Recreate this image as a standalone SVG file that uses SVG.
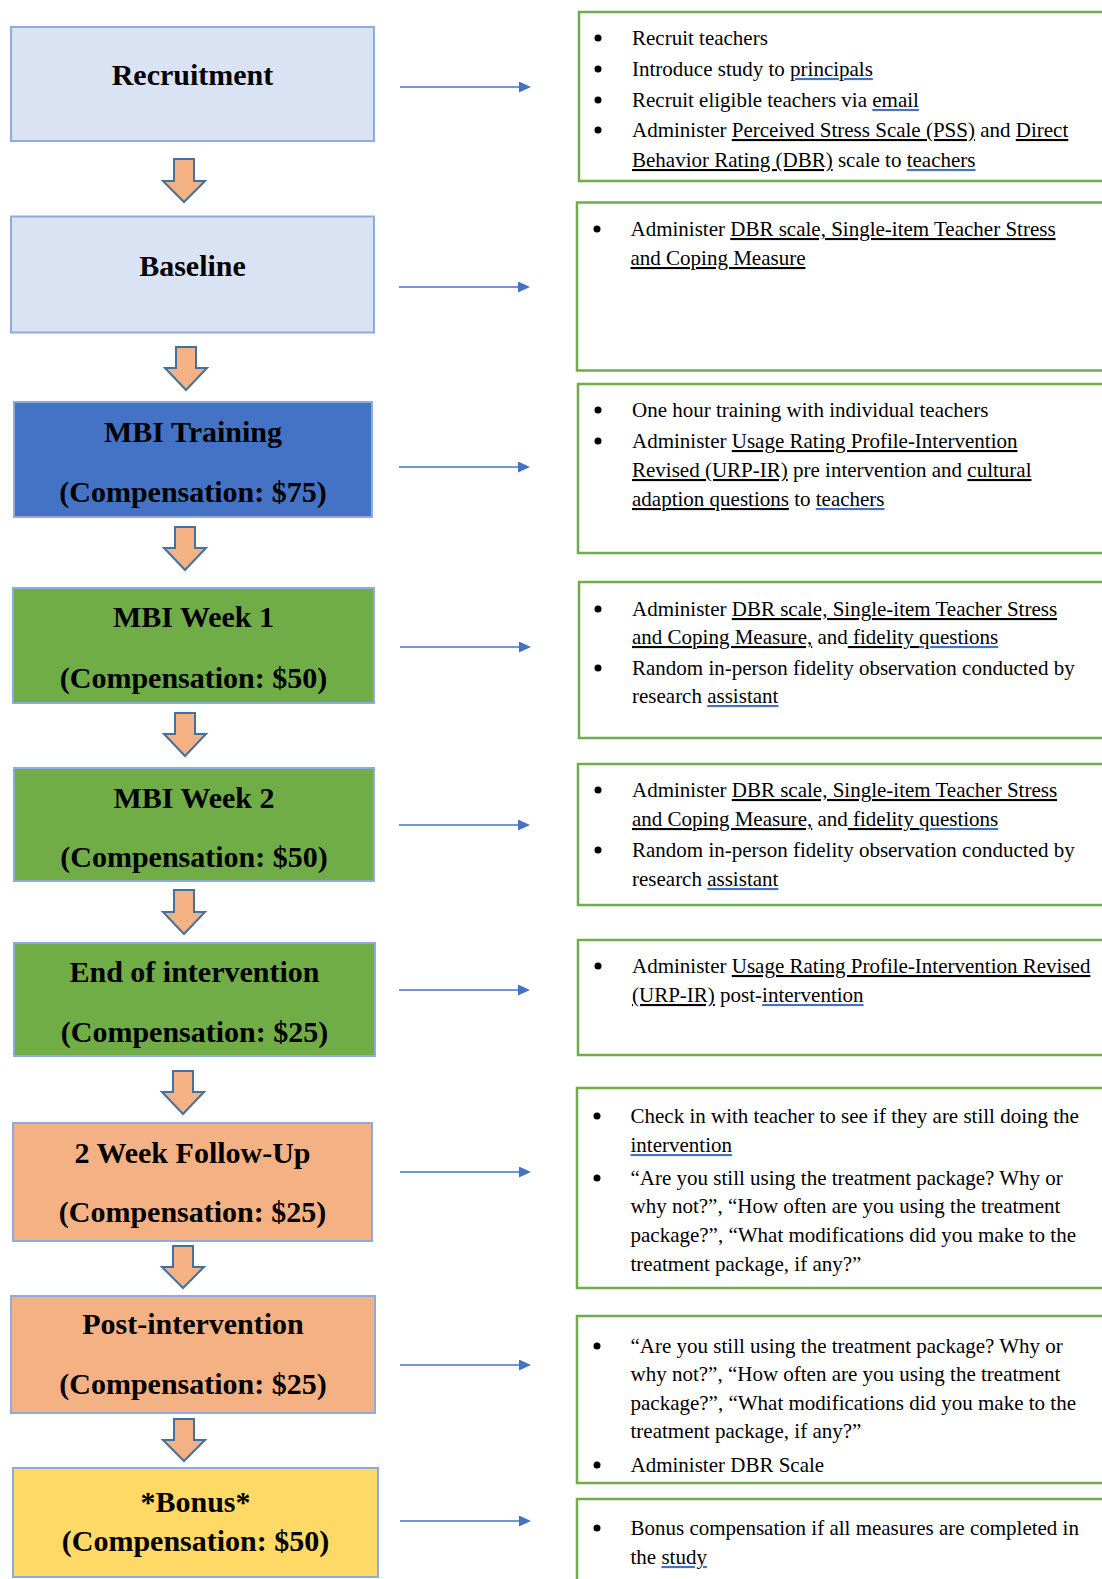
<svg xmlns="http://www.w3.org/2000/svg" width="1102" height="1579" viewBox="0 0 1102 1579">
<style>
.lb{stroke:#8FAADC;stroke-width:2}
.rb{fill:none;stroke:#70AD47;stroke-width:2.5}
.lt{font-family:"Liberation Serif","Times New Roman",serif;font-weight:bold;font-size:30px;text-anchor:middle;fill:#000}
.rt{font-family:"Liberation Serif","Times New Roman",serif;font-size:21px;fill:#000}
.u{text-decoration:underline}
.b{text-decoration:underline;fill:#4472C4}
.k{fill:#000}
.dn{fill:#F4B183;stroke:#41719C;stroke-width:2;stroke-linejoin:miter}
.ra{stroke:#4472C4;stroke-width:1.5;fill:none;marker-end:url(#ah)}
.bul{fill:#000}
</style>
<defs>
<marker id="ah" markerUnits="userSpaceOnUse" markerWidth="13" markerHeight="12" refX="1" refY="5.5" orient="auto">
<path d="M0,0 L12,5.5 L0,11 Z" fill="#4472C4"/>
</marker>
</defs>
<rect width="1102" height="1579" fill="#fff"/>

<g id="node-recruitment">
<rect class="lb" x="11" y="27" width="363" height="114" fill="#DAE3F3"/>
<text class="lt" x="192.5" y="85">Recruitment</text>
</g>
<g id="node-baseline">
<rect class="lb" x="11" y="216.5" width="363" height="116" fill="#DAE3F3"/>
<text class="lt" x="192.5" y="276">Baseline</text>
</g>
<g id="node-mbi-training">
<rect class="lb" x="14" y="402" width="358" height="115" fill="#4472C4"/>
<text class="lt" x="193" y="442">MBI Training</text>
<text class="lt" x="193" y="502">(Compensation: $75)</text>
</g>
<g id="node-mbi-week1">
<rect class="lb" x="13" y="588" width="361" height="115" fill="#70AD47"/>
<text class="lt" x="193.5" y="627">MBI Week 1</text>
<text class="lt" x="193.5" y="688">(Compensation: $50)</text>
</g>
<g id="node-mbi-week2">
<rect class="lb" x="14" y="768" width="360" height="113" fill="#70AD47"/>
<text class="lt" x="194" y="808">MBI Week 2</text>
<text class="lt" x="194" y="867">(Compensation: $50)</text>
</g>
<g id="node-end">
<rect class="lb" x="14" y="943" width="361" height="113" fill="#70AD47"/>
<text class="lt" x="194.5" y="982">End of intervention</text>
<text class="lt" x="194.5" y="1042">(Compensation: $25)</text>
</g>
<g id="node-followup">
<rect class="lb" x="13" y="1123" width="359" height="118" fill="#F4B183"/>
<text class="lt" x="192.5" y="1163">2 Week Follow-Up</text>
<text class="lt" x="192.5" y="1222">(Compensation: $25)</text>
</g>
<g id="node-post">
<rect class="lb" x="11" y="1296" width="364" height="117" fill="#F4B183"/>
<text class="lt" x="193" y="1334">Post-intervention</text>
<text class="lt" x="193" y="1394">(Compensation: $25)</text>
</g>
<g id="node-bonus">
<rect class="lb" x="13" y="1468" width="365" height="109" fill="#FFD966"/>
<text class="lt" x="195.5" y="1512">*Bonus*</text>
<text class="lt" x="195.5" y="1551">(Compensation: $50)</text>
</g>

<g id="detail-recruitment">
<rect class="rb" x="579" y="12" width="540" height="169"/>
<circle class="bul" cx="598" cy="38" r="3.5"/>
<circle class="bul" cx="598" cy="69" r="3.5"/>
<circle class="bul" cx="598" cy="100" r="3.5"/>
<circle class="bul" cx="598" cy="130" r="3.5"/>
<text class="rt" x="632" y="45">Recruit teachers</text>
<text class="rt" x="632" y="76">Introduce study to <tspan class="b"><tspan class="k">principals</tspan></tspan></text>
<text class="rt" x="632" y="107">Recruit eligible teachers via <tspan class="b"><tspan class="k">email</tspan></tspan></text>
<text class="rt" x="632" y="137">Administer <tspan class="u">Perceived Stress Scale (PSS)</tspan> and <tspan class="u">Direct</tspan></text>
<text class="rt" x="632" y="167"><tspan class="u">Behavior Rating (DBR)</tspan> scale to <tspan class="b"><tspan class="k">teachers</tspan></tspan></text>
</g>
<g id="detail-baseline">
<rect class="rb" x="577" y="202.5" width="540" height="168"/>
<circle class="bul" cx="597" cy="229" r="3.5"/>
<text class="rt" x="630.5" y="236">Administer <tspan class="u">DBR scale, Single-item Teacher Stress</tspan></text>
<text class="rt" x="630.5" y="265"><tspan class="u">and Coping Measure</tspan></text>
</g>
<g id="detail-training">
<rect class="rb" x="578" y="384" width="540" height="169"/>
<circle class="bul" cx="598" cy="410" r="3.5"/>
<circle class="bul" cx="598" cy="441" r="3.5"/>
<text class="rt" x="632" y="417">One hour training with individual teachers</text>
<text class="rt" x="632" y="448">Administer <tspan class="u">Usage Rating Profile-Intervention</tspan></text>
<text class="rt" x="632" y="477"><tspan class="u">Revised (URP-IR)</tspan> pre intervention and <tspan class="u">cultural</tspan></text>
<text class="rt" x="632" y="506"><tspan class="u">adaption questions</tspan> to <tspan class="b"><tspan class="k">teachers</tspan></tspan></text>
</g>
<g id="detail-week1">
<rect class="rb" x="579" y="582" width="540" height="156"/>
<circle class="bul" cx="598" cy="609" r="3.5"/>
<circle class="bul" cx="598" cy="668" r="3.5"/>
<text class="rt" x="632" y="616">Administer <tspan class="u">DBR scale, Single-item Teacher Stress</tspan></text>
<text class="rt" x="632" y="644"><tspan class="u">and Coping Measure,</tspan> and<tspan class="u"> fidelity </tspan><tspan class="b"><tspan class="k">questions</tspan></tspan></text>
<text class="rt" x="632" y="675">Random in-person fidelity observation conducted by</text>
<text class="rt" x="632" y="703">research <tspan class="b"><tspan class="k">assistant</tspan></tspan></text>
</g>
<g id="detail-week2">
<rect class="rb" x="578" y="764" width="540" height="141"/>
<circle class="bul" cx="598" cy="790" r="3.5"/>
<circle class="bul" cx="598" cy="850" r="3.5"/>
<text class="rt" x="632" y="797">Administer <tspan class="u">DBR scale, Single-item Teacher Stress</tspan></text>
<text class="rt" x="632" y="826"><tspan class="u">and Coping Measure,</tspan> and<tspan class="u"> fidelity </tspan><tspan class="b"><tspan class="k">questions</tspan></tspan></text>
<text class="rt" x="632" y="857">Random in-person fidelity observation conducted by</text>
<text class="rt" x="632" y="886">research <tspan class="b"><tspan class="k">assistant</tspan></tspan></text>
</g>
<g id="detail-end">
<rect class="rb" x="578" y="940" width="540" height="115"/>
<circle class="bul" cx="598" cy="966" r="3.5"/>
<text class="rt" x="632" y="973">Administer <tspan class="u">Usage Rating Profile-Intervention Revised</tspan></text>
<text class="rt" x="632" y="1002"><tspan class="u">(URP-IR)</tspan> post-<tspan class="b"><tspan class="k">intervention</tspan></tspan></text>
</g>
<g id="detail-followup">
<rect class="rb" x="577" y="1088" width="540" height="200"/>
<circle class="bul" cx="597" cy="1116" r="3.5"/>
<circle class="bul" cx="597" cy="1178" r="3.5"/>
<text class="rt" x="630.5" y="1123">Check in with teacher to see if they are still doing the</text>
<text class="rt" x="630.5" y="1152"><tspan class="b"><tspan class="k">intervention</tspan></tspan></text>
<text class="rt" x="630.5" y="1185">“Are you still using the treatment package? Why or</text>
<text class="rt" x="630.5" y="1213">why not?”, “How often are you using the treatment</text>
<text class="rt" x="630.5" y="1242">package?”, “What modifications did you make to the</text>
<text class="rt" x="630.5" y="1271">treatment package, if any?”</text>
</g>
<g id="detail-post">
<rect class="rb" x="577" y="1316" width="540" height="167"/>
<circle class="bul" cx="597" cy="1346" r="3.5"/>
<circle class="bul" cx="597" cy="1465" r="3.5"/>
<text class="rt" x="630.5" y="1353">“Are you still using the treatment package? Why or</text>
<text class="rt" x="630.5" y="1381">why not?”, “How often are you using the treatment</text>
<text class="rt" x="630.5" y="1410">package?”, “What modifications did you make to the</text>
<text class="rt" x="630.5" y="1438">treatment package, if any?”</text>
<text class="rt" x="630.5" y="1472">Administer DBR Scale</text>
</g>
<g id="detail-bonus">
<rect class="rb" x="577" y="1499" width="540" height="100"/>
<circle class="bul" cx="597" cy="1528" r="3.5"/>
<text class="rt" x="630.5" y="1535">Bonus compensation if all measures are completed in</text>
<text class="rt" x="630.5" y="1564">the <tspan class="b"><tspan class="k">study</tspan></tspan></text>
</g>

<g id="connectors">
<path class="dn" d="M174,159 H194 V181 H205 L184,202 L163,181 H174 Z"/>
<path class="dn" d="M176,347 H196 V368 H207 L186,390 L165,368 H176 Z"/>
<path class="dn" d="M175,527 H195 V548 H206 L185,570 L164,548 H175 Z"/>
<path class="dn" d="M175,713 H195 V734 H206 L185,756 L164,734 H175 Z"/>
<path class="dn" d="M174,890 H194 V912 H205 L184,934 L163,912 H174 Z"/>
<path class="dn" d="M173,1071 H193 V1092 H204 L183,1114 L162,1092 H173 Z"/>
<path class="dn" d="M173,1246 H193 V1267 H204 L183,1288 L162,1267 H173 Z"/>
<path class="dn" d="M174,1419 H194 V1440 H205 L184,1461 L163,1440 H174 Z"/>
<line class="ra" x1="400" y1="87" x2="520" y2="87"/>
<line class="ra" x1="399" y1="287" x2="519" y2="287"/>
<line class="ra" x1="399" y1="467" x2="519" y2="467"/>
<line class="ra" x1="400" y1="647" x2="520" y2="647"/>
<line class="ra" x1="399" y1="825" x2="519" y2="825"/>
<line class="ra" x1="399" y1="990" x2="519" y2="990"/>
<line class="ra" x1="400" y1="1172" x2="520" y2="1172"/>
<line class="ra" x1="400" y1="1365" x2="520" y2="1365"/>
<line class="ra" x1="400" y1="1521" x2="520" y2="1521"/>
</g>
</svg>
